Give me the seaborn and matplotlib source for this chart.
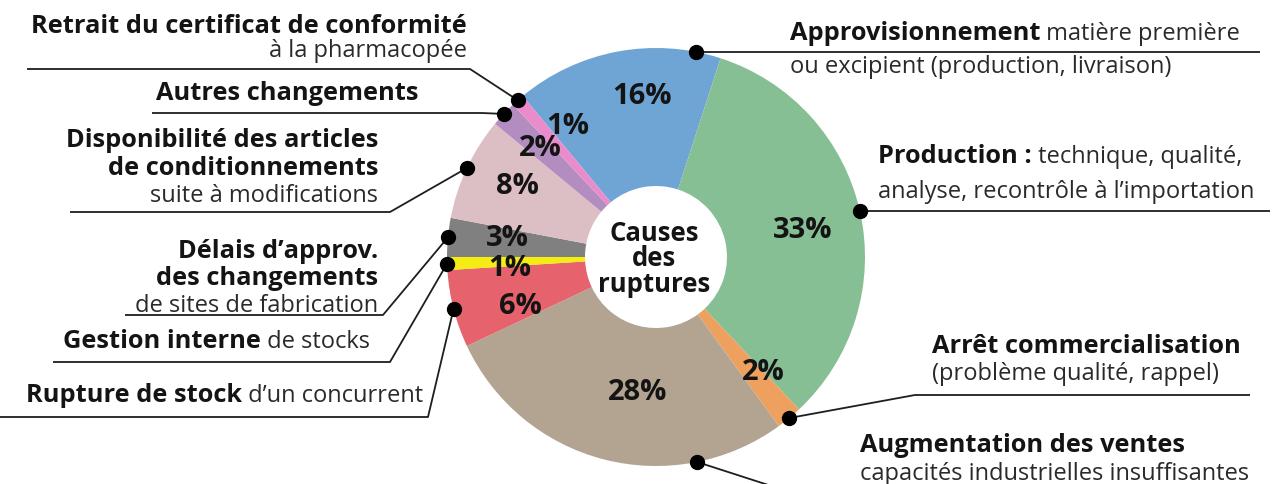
import matplotlib
matplotlib.use("Agg")
import matplotlib.pyplot as plt
import seaborn as sns
import numpy as np

# Causes des ruptures, dans le sens des aiguilles d'une montre depuis le bleu
causes = ["Approvisionnement", "Production", "Arrêt commercialisation", "Augmentation des ventes",
          "Rupture de stock d'un concurrent", "Gestion interne de stocks", "Délais d'approv.",
          "Disponibilité des articles", "Autres changements", "Retrait du certificat"]
parts = [16, 33, 2, 28, 6, 1, 3, 8, 2, 1]
colors = ["#6fa5d4", "#87bf95", "#eea15e", "#b3a491", "#e6636d",
          "#f4ec12", "#808080", "#dcbfc5", "#b48dc0", "#ea8ccb"]

# texte des étiquettes : une liste de lignes (partie grasse, partie normale)
label_text = [
    [("Approvisionnement", " matière première"), ("", "ou excipient (production, livraison)")],
    [("Production :", " technique, qualité,"), ("", "analyse, recontrôle à l\u2019importation")],
    [("Arrêt commercialisation", ""), ("", "(problème qualité, rappel)")],
    [("Augmentation des ventes", ""), ("", "capacités industrielles insuffisantes")],
    [("Rupture de stock", " d\u2019un concurrent")],
    [("Gestion interne", " de stocks")],
    [("Délais d\u2019approv.", ""), ("des changements", ""), ("", "de sites de fabrication")],
    [("Disponibilité des articles", ""), ("de conditionnements", ""), ("", "suite à modifications")],
    [("Autres changements", "")],
    [("Retrait du certificat de conformité", ""), ("", "à la pharmacopée")],
]
center_title = "Causes\ndes\nruptures"

W, H = 1278, 484
FS_B = 18.3
FS_R = 17
BOLD_C = "#141414"
REG_C = "#2a2a2a"

# mise en page (pixels, y vers le bas)
cx, cy, R, r_hole = 656, 257, 209, 71
# side, x d'ancrage du texte, lignes de base, coude du trait, fin du soulignement, position du point
layout = [
    ("R", 790, [40, 73], None, 1260, 0.12),
    ("R", 878, [163, 198], None, 1270, 0.5),
    ("R", 932, [353, 380], (915, 395), 1250, 0.5),
    ("R", 860, [452, 480], (790, 492), 1260, 0.755),
    ("L", 423, [402], (428, 417), 0, 0.5),
    ("L", 370, [348], (390, 362), 53, 0.5),
    ("L", 378, [258, 285, 312], (383, 315), 125, 0.5),
    ("L", 378, [147, 175, 202], (390, 212), 70, 0.5),
    ("L", 418, [100], (482, 113), 152, 0.5),
    ("L", 467, [33, 57], (470, 69), 27, 0.5),
]
pct_pos = [(642, 97), (803, 230), (763, 372), (638, 393), (520, 307),
           (510, 268), (507, 238), (517, 187), (540, 148), (568, 127)]

sns.set_theme(style="white")
plt.rcParams["font.family"] = ["Open Sans", "DejaVu Sans"]


def Y(y):
    return H - y


fig = plt.figure(figsize=(W / 100, H / 100), dpi=100)
ax = fig.add_axes([0, 0, 1, 1])

wedges, _ = ax.pie(parts, colors=colors, startangle=129.6, counterclock=False,
                   center=(cx, Y(cy)), radius=R,
                   wedgeprops=dict(width=R - r_hole, edgecolor="none", linewidth=0))
ax.set_xlim(0, W)
ax.set_ylim(0, H)
ax.set_aspect("auto")
ax.axis("off")

# centre
ax.text(654, Y(259), center_title, ha="center", va="center", multialignment="center",
        fontsize=18.5, fontweight="bold", color=BOLD_C, linespacing=0.92)

# pourcentages
for p, (px, py) in zip(parts, pct_pos):
    ax.text(px, Y(py), f"{p}%", ha="center", va="center", fontsize=21,
            fontweight="bold", color=BOLD_C)


def draw_line(side, x, y, bold, regular):
    if side == "L":
        if regular:
            t = ax.text(x, Y(y), regular, ha="right", va="baseline", fontsize=FS_R, color=REG_C)
            if bold:
                ax.annotate(bold, xy=(0, 0), xycoords=t, ha="right", va="bottom",
                            fontsize=FS_B, fontweight="bold", color=BOLD_C)
        else:
            ax.text(x, Y(y), bold, ha="right", va="baseline", fontsize=FS_B,
                    fontweight="bold", color=BOLD_C)
    else:
        if bold:
            t = ax.text(x, Y(y), bold, ha="left", va="baseline", fontsize=FS_B,
                        fontweight="bold", color=BOLD_C)
            if regular:
                ax.annotate(regular, xy=(1, 0), xycoords=t, ha="left", va="bottom",
                            fontsize=FS_R, color=REG_C)
        else:
            ax.text(x, Y(y), regular, ha="left", va="baseline", fontsize=FS_R, color=REG_C)


for w, lines, (side, tx, bases, elbow, end_x, frac) in zip(wedges, label_text, layout):
    ang = np.radians(w.theta1 + frac * (w.theta2 - w.theta1))
    dx, dy = cx + R * np.cos(ang), Y(cy) + R * np.sin(ang)
    if elbow is None:
        xs, ys = [dx, end_x], [dy, dy]
    else:
        xs = [dx, elbow[0], end_x]
        ys = [dy, Y(elbow[1]), Y(elbow[1])]
    ax.plot(xs, ys, color="#1e1e1e", lw=1.3, solid_capstyle="butt", zorder=3)
    ax.plot(dx, dy, "o", color="black", ms=10, zorder=4)
    for (b, rg), yy in zip(lines, bases):
        draw_line(side, tx, yy, b, rg)

fig.savefig("out.png", dpi=100, facecolor="white")
